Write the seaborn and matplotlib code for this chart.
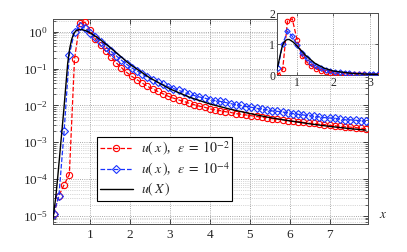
import numpy as np
import matplotlib
matplotlib.use("Agg")
import matplotlib.pyplot as plt
import seaborn as sns

# ── Data (values stored as log10) ──
x_grid = [0.10, 0.23, 0.36, 0.49, 0.62, 0.75, 0.88, 1.01, 1.14, 1.27,
          1.40, 1.53, 1.66, 1.79, 1.92, 2.05, 2.18, 2.31, 2.44, 2.57,
          2.70, 2.83, 2.96, 3.09, 3.22, 3.35, 3.48, 3.61, 3.74, 3.87,
          4.00, 4.13, 4.26, 4.39, 4.52, 4.65, 4.78, 4.91, 5.04, 5.17,
          5.30, 5.43, 5.56, 5.69, 5.82, 5.95, 6.08, 6.21, 6.34, 6.47,
          6.60, 6.73, 6.86, 6.99, 7.12, 7.25, 7.38, 7.51, 7.64, 7.77, 7.90]

log_eps2 = [-4.95, -4.45, -4.15, -3.88, -0.74, 0.24, 0.26, 0.06, -0.20, -0.37,
            -0.53, -0.69, -0.84, -0.97, -1.10, -1.21, -1.30, -1.39, -1.48, -1.55,
            -1.62, -1.68, -1.75, -1.80, -1.85, -1.89, -1.94, -1.98, -2.02, -2.05,
            -2.09, -2.12, -2.14, -2.17, -2.19, -2.22, -2.24, -2.26, -2.28, -2.30,
            -2.32, -2.33, -2.36, -2.37, -2.39, -2.41, -2.43, -2.44, -2.46, -2.48,
            -2.49, -2.51, -2.52, -2.54, -2.55, -2.57, -2.58, -2.59, -2.60, -2.62, -2.63]

log_eps4 = [-4.95, -4.45, -2.70, -0.62, 0.00, 0.15, 0.10, -0.02, -0.15, -0.27,
            -0.40, -0.53, -0.65, -0.77, -0.88, -0.98, -1.06, -1.15, -1.23, -1.30,
            -1.37, -1.43, -1.49, -1.54, -1.59, -1.64, -1.69, -1.73, -1.77, -1.80,
            -1.84, -1.87, -1.89, -1.92, -1.95, -1.98, -2.00, -2.03, -2.05, -2.08,
            -2.10, -2.12, -2.15, -2.16, -2.18, -2.20, -2.22, -2.24, -2.26, -2.28,
            -2.29, -2.31, -2.33, -2.34, -2.35, -2.37, -2.39, -2.39, -2.40, -2.42, -2.43]

x_exact = [0.08, 0.15, 0.20, 0.25, 0.30, 0.35, 0.40, 0.45, 0.50, 0.55,
           0.60, 0.65, 0.70, 0.75, 0.80, 0.90, 1.00, 1.25, 1.50, 1.75,
           2.00, 2.50, 3.00, 3.50, 4.00, 4.50, 5.00, 5.50, 6.00, 6.50,
           7.00, 7.50, 7.90]
log_exact = [-5.10, -4.50, -3.95, -3.35, -2.75, -2.15, -1.50, -0.85, -0.45, -0.20,
             -0.05, 0.02, 0.05, 0.06, 0.06, 0.03, -0.02, -0.20, -0.42, -0.65,
             -0.88, -1.25, -1.55, -1.78, -1.96, -2.10, -2.22, -2.33, -2.42, -2.50,
             -2.57, -2.63, -2.67]

y_eps2 = 10 ** np.array(log_eps2)
y_eps4 = 10 ** np.array(log_eps4)
y_exact = 10 ** np.array(log_exact)

lab_eps2 = r"$u(\,x\,)$,  $\epsilon\;=\;10^{-2}$"
lab_eps4 = r"$u(\,x\,)$,  $\epsilon\;=\;10^{-4}$"
lab_exact = r"$u(\,X\,)$"

# ── Style ──
sns.set_style("ticks")
plt.rcParams["font.family"] = ["Liberation Serif", "DejaVu Serif"]
plt.rcParams["mathtext.fontset"] = "stix"
plt.rcParams["font.size"] = 8

RED = "#ff0000"
BLUE = "#1a33ff"

fig = plt.figure(figsize=(4.07, 2.52), dpi=100)
ax = fig.add_axes([0.130, 0.111, 0.774, 0.814])
axin = fig.add_axes([0.681, 0.702, 0.248, 0.246])


def draw(a, ms):
    sns.lineplot(x=x_grid, y=y_eps2, ax=a, color=RED, linestyle="--", lw=0.9,
                 marker="o", markersize=ms, markerfacecolor="none",
                 markeredgecolor=RED, markeredgewidth=0.8, sort=False, zorder=3)
    sns.lineplot(x=x_grid, y=y_eps4, ax=a, color=BLUE, linestyle="--", lw=0.9,
                 marker="D", markersize=ms * 0.85, markerfacecolor="none",
                 markeredgecolor=BLUE, markeredgewidth=0.8, sort=False, zorder=3)
    sns.lineplot(x=x_exact, y=y_exact, ax=a, color="black", lw=1.0,
                 sort=False, zorder=4)


# ── Main axes ──
draw(ax, 4.5)
ax.set_yscale("log")
ax.set_xlim(0.08, 7.95)
ax.set_ylim(10 ** -5.22, 10 ** 0.35)
ax.set_xticks([1, 2, 3, 4, 5, 6, 7])
ax.set_yticks([1e-5, 1e-4, 1e-3, 1e-2, 1e-1, 1e0])
ax.tick_params(which="both", direction="in", top=True, right=True, labelsize=9.5)
ax.tick_params(which="major", length=3.5, width=0.6)
ax.tick_params(which="minor", length=2, width=0.5)
ax.grid(True, which="major", linestyle=":", color="0.55", lw=0.6)
ax.grid(True, which="minor", axis="y", linestyle=":", color="0.7", lw=0.5)
for s in ax.spines.values():
    s.set_linewidth(0.7)
    s.set_color("0.3")
ax.set_xlabel("")
ax.set_ylabel("")
ax.text(1.035, 0.045, r"$x$", transform=ax.transAxes, fontsize=9.5,
        ha="left", va="center")

handles = ax.get_lines()[:3]
leg = ax.legend(handles, [lab_eps2, lab_eps4, lab_exact],
                loc="lower left", bbox_to_anchor=(0.14, 0.112),
                fontsize=10, frameon=True, fancybox=False, framealpha=1,
                edgecolor="black", handlelength=2.4, borderpad=0.2,
                labelspacing=0.17, handletextpad=0.55, borderaxespad=0)
leg.get_frame().set_linewidth(0.8)

# ── Inset ──
draw(axin, 3.2)
axin.set_xlim(0.47, 3.22)
axin.set_ylim(0, 2.0)
axin.set_xticks([1, 2, 3])
axin.set_yticks([0, 1, 2])
axin.tick_params(direction="in", top=True, right=True, labelsize=8.5,
                 length=2.5, width=0.5, pad=1.5)
axin.grid(True, linestyle=":", color="0.55", lw=0.6)
axin.set_facecolor("white")
for s in axin.spines.values():
    s.set_linewidth(0.7)
    s.set_color("0.3")
axin.set_xlabel("")
axin.set_ylabel("")
if axin.get_legend():
    axin.get_legend().remove()

fig.savefig("out.png", dpi=100)
